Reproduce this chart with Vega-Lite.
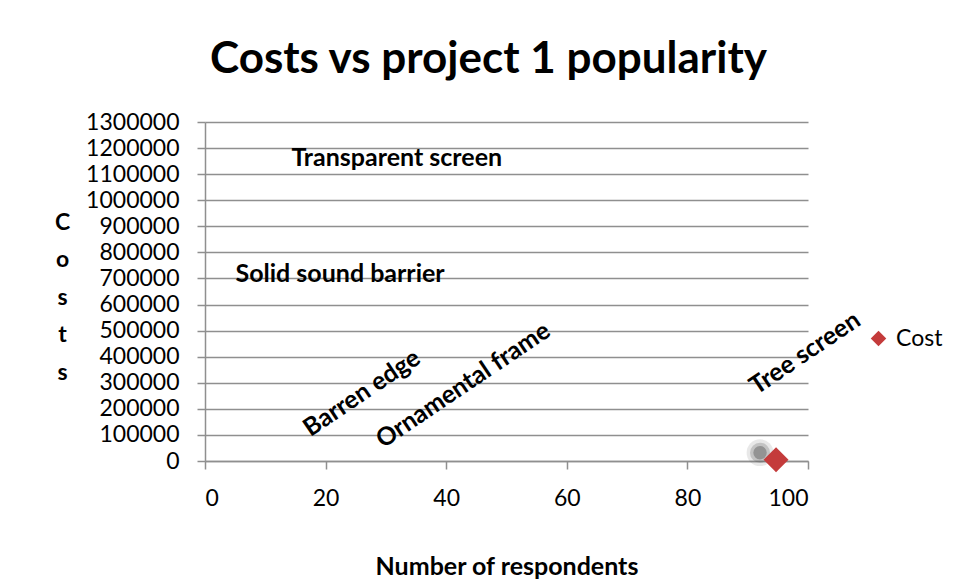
{
  "$schema": "https://vega.github.io/schema/vega-lite/v6.json",
  "width": 603,
  "height": 339,
  "autosize": {"type": "none"},
  "padding": {"left": 205, "top": 122, "right": 148, "bottom": 119},
  "background": "white",
  "config": {
    "font": "Lato",
    "view": {"stroke": null},
    "axis": {
      "domainColor": "#8f8f8f",
      "domainWidth": 1.5,
      "tickColor": "#8f8f8f",
      "tickWidth": 1.5,
      "tickSize": 8,
      "gridColor": "#8f8f8f",
      "gridWidth": 1.5,
      "labelFont": "Lato",
      "labelFontSize": 23,
      "labelColor": "#000000",
      "labelOverlap": false,
      "titleFont": "Lato",
      "titleFontWeight": "bold",
      "titleColor": "#000000"
    }
  },
  "title": {
    "text": "Costs vs project 1 popularity",
    "font": "Lato",
    "fontSize": 44,
    "fontWeight": "bold",
    "color": "#000000",
    "anchor": "middle",
    "dx": -18,
    "offset": 29
  },
  "datasets": {
    "points": [
      {"respondents": 94.7, "cost": 5000, "series": "Cost"}
    ],
    "flatNotes": [
      {"note": "Transparent screen", "respondents": 31.8, "cost": 1162000},
      {"note": "Solid sound barrier", "respondents": 22.4, "cost": 717000}
    ],
    "slantNotes": [
      {"note": "Barren edge", "respondents": 26.0, "cost": 261000},
      {"note": "Ornamental frame", "respondents": 42.8, "cost": 291000},
      {"note": "Tree screen", "respondents": 99.5, "cost": 414000}
    ]
  },
  "encoding": {
    "x": {
      "field": "respondents",
      "type": "quantitative",
      "scale": {"domain": [0, 100], "nice": false},
      "axis": {
        "values": [0, 20, 40, 60, 80, 100],
        "tickCount": 20,
        "grid": false,
        "labelPadding": 18,
        "title": "Number of respondents",
        "titleFontSize": 25,
        "titlePadding": 44
      }
    },
    "y": {
      "field": "cost",
      "type": "quantitative",
      "scale": {"domain": [0, 1300000], "nice": false},
      "axis": {
        "values": [0, 100000, 200000, 300000, 400000, 500000, 600000, 700000, 800000, 900000, 1000000, 1100000, 1200000, 1300000],
        "tickCount": 30,
        "format": "d",
        "labelPadding": 18,
        "labelSeparation": 0,
        "title": ["C", "o", "s", "t", "s"],
        "titleAngle": 0,
        "titleFontSize": 23,
        "titleLineHeight": 37.5,
        "titleAlign": "center",
        "titleBaseline": "middle",
        "titleX": -143,
        "titleY": 100
      }
    }
  },
  "layer": [
    {
      "data": {"name": "points"},
      "mark": {"type": "point", "shape": "circle", "filled": true, "color": "#5a5a5a", "opacity": 0.14, "size": 720, "xOffset": -16, "yOffset": -7, "clip": false}
    },
    {
      "data": {"name": "points"},
      "mark": {"type": "point", "shape": "circle", "filled": true, "color": "#555555", "opacity": 0.25, "size": 400, "xOffset": -16, "yOffset": -7, "clip": false}
    },
    {
      "data": {"name": "points"},
      "mark": {"type": "point", "shape": "circle", "filled": true, "color": "#4a4a4a", "opacity": 0.4, "size": 180, "xOffset": -16, "yOffset": -7, "clip": false}
    },
    {
      "data": {"name": "points"},
      "mark": {"type": "point", "filled": true, "opacity": 1, "size": 620, "clip": false},
      "encoding": {
        "color": {
          "field": "series",
          "type": "nominal",
          "scale": {"range": ["#c43b3b"]},
          "legend": {
            "title": null,
            "orient": "none",
            "legendX": 662,
            "legendY": 205,
            "symbolSize": 240,
            "symbolStrokeWidth": 0,
            "labelFont": "Lato",
            "labelFontSize": 23,
            "labelColor": "#000000",
            "labelOffset": 6
          }
        },
        "shape": {
          "field": "series",
          "type": "nominal",
          "scale": {"range": ["diamond"]}
        }
      }
    },
    {
      "data": {"name": "flatNotes"},
      "mark": {"type": "text", "font": "Lato", "fontSize": 25, "fontWeight": "bold", "color": "#000000", "align": "center", "baseline": "middle"},
      "encoding": {
        "text": {"field": "note"}
      }
    },
    {
      "data": {"name": "slantNotes"},
      "mark": {"type": "text", "font": "Lato", "fontSize": 25, "fontWeight": "bold", "color": "#000000", "align": "center", "baseline": "middle", "angle": 326, "clip": false},
      "encoding": {
        "text": {"field": "note"}
      }
    }
  ]
}
